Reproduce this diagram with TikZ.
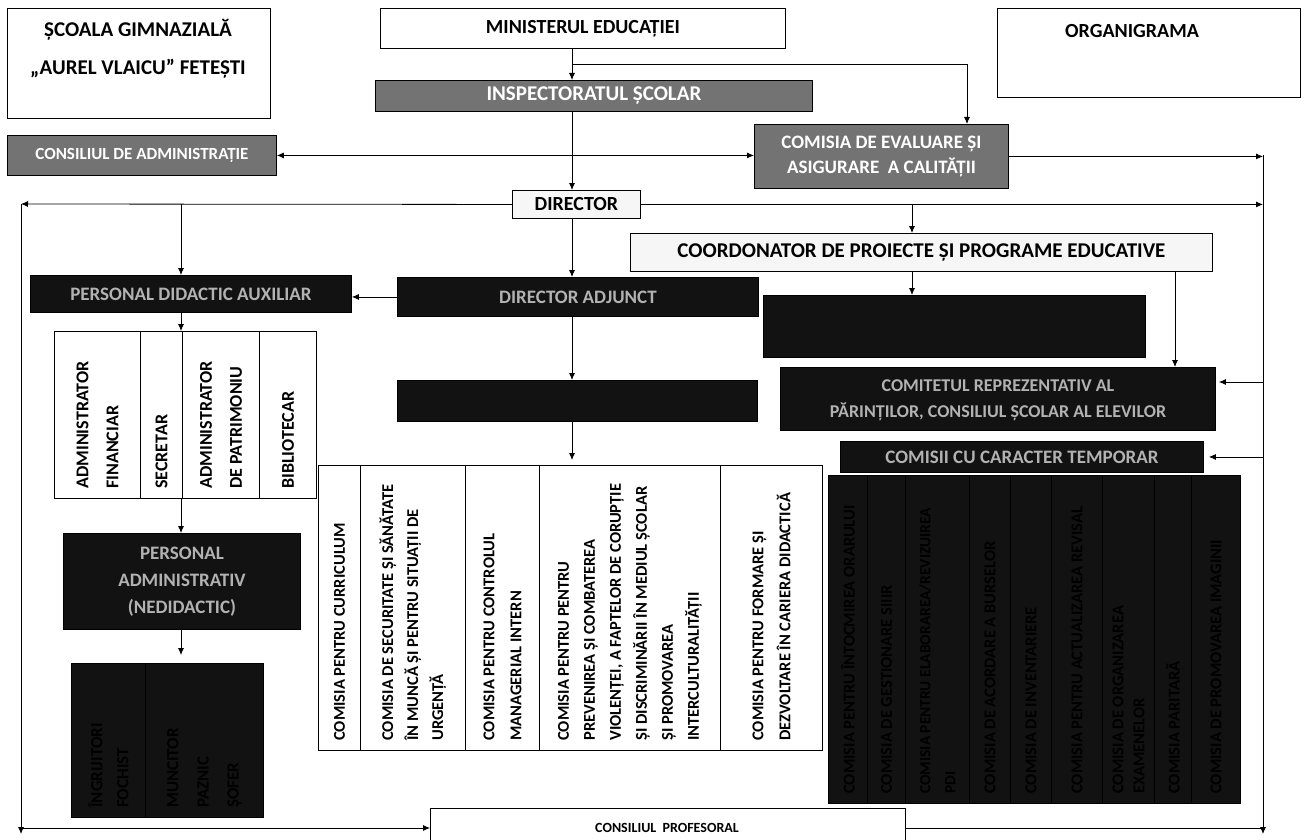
\documentclass[tikz,border=0pt]{standalone}
\usepackage{fontspec}
\setmainfont{Carlito}
\usetikzlibrary{arrows.meta}
\tikzset{
  every node/.style={font=\bfseries, inner sep=0pt},
  wbox/.style={draw, line width=0.9pt, fill=white},
  lbox/.style={draw, line width=0.9pt, fill=gray!7},
  gbox/.style={draw, line width=0.9pt, fill=black!55, text=white},
  dbox/.style={draw=black, line width=0.9pt, fill=black!93, text=gray!60},
  conn/.style={line width=0.8pt},
  arr/.style={conn, -{Latex[length=7pt,width=6pt]}},
}
\newcommand\bx[7]{\node[#1, anchor=north west, minimum width={#5-#3}, minimum height={#6-#4}] (#2) at (#3,#4) {#7};}
% column with rotated text (starting 10pt above the bottom): style, name, x1,y1,x2,y2, font, text
\newcommand\vcol[8]{%
  \node[#1, anchor=north west, minimum width={#5-#3}, minimum height={#6-#4}] (#2) at (#3,#4) {};
  \node[rotate=90, anchor=west, align=left, font=#7] at ([yshift=10pt]#2.south) {#8};}
\begin{document}
\begin{tikzpicture}[x=1pt,y=-1pt]
\useasboundingbox (0,0) rectangle (1306,840);
\clip (0,0) rectangle (1306,840);
% rails / named coordinates
\coordinate (trunk) at (572,0);
\coordinate (ceacx) at (967,0);
\coordinate (rr) at (1263,0);
\coordinate (lr) at (21,0);
\coordinate (pdax) at (181,0);
\coordinate (coordx) at (912,0);
\coordinate (comx) at (1175,0);
\coordinate (j1) at (572,64);
\coordinate (lrtop) at (21,204);
\coordinate (lrbot) at (21,834);
\coordinate (rrtop) at (1263,155);
\coordinate (rrbot) at (1263,834);
\coordinate (cpy) at (0,828);
\coordinate (comy) at (0,382);

% top boxes
\bx{wbox}{title}{7}{8}{270}{118}{}
\node[font=\bfseries\fontsize{21}{38}\selectfont, align=center] at (138,49) {ȘCOALA GIMNAZIALĂ\\„AUREL VLAICU” FETEȘTI};
\bx{wbox}{min}{380}{8}{785}{48}{\fontsize{20}{22}\selectfont MINISTERUL EDUCAȚIEI}
\bx{wbox}{org}{997}{8}{1300}{97}{}
\node[font=\bfseries\fontsize{20}{22}\selectfont] at (1132,31) {ORGANIGRAMA};
\bx{gbox}{insp}{375}{80}{812}{111}{\fontsize{21}{23}\selectfont INSPECTORATUL ȘCOLAR}
\bx{gbox}{ca}{7}{135}{276}{175}{\fontsize{17}{20}\selectfont CONSILIUL DE ADMINISTRAȚIE}
\bx{gbox}{ceac}{754}{124}{1008}{188}{\fontsize{19}{25}\selectfont\begin{tabular}{@{}c@{}}COMISIA DE EVALUARE ȘI\\ASIGURARE \ A CALITĂȚII\end{tabular}}
\bx{lbox}{dir}{512}{190}{640}{218}{\fontsize{20}{22}\selectfont DIRECTOR}
\bx{lbox}{coord}{630}{233}{1212}{271}{\fontsize{21}{23}\selectfont COORDONATOR DE PROIECTE ȘI PROGRAME EDUCATIVE}
\bx{dbox}{pda}{30}{275}{351}{312}{\fontsize{19}{21}\selectfont PERSONAL DIDACTIC AUXILIAR}
\bx{dbox}{da}{397}{277}{758}{316}{\fontsize{19}{21}\selectfont DIRECTOR ADJUNCT}
\bx{dbox}{big}{763}{295}{1145}{357}{}
\bx{dbox}{comit}{780}{367}{1215}{430}{\fontsize{18}{26}\selectfont\begin{tabular}{@{}c@{}}COMITETUL REPREZENTATIV AL\\PĂRINȚILOR, CONSILIUL ȘCOLAR AL ELEVILOR\end{tabular}}
\bx{dbox}{blank}{397}{380}{757}{421}{}
\bx{dbox}{ctt}{840}{441}{1203}{472}{\fontsize{19}{21}\selectfont COMISII CU CARACTER TEMPORAR}

% administrative columns
\vcol{wbox}{ad1}{54}{331}{140}{498}{\bfseries\fontsize{18}{30}\selectfont}{ADMINISTRATOR\\FINANCIAR}
\vcol{wbox}{ad2}{140}{331}{182}{498}{\bfseries\fontsize{18}{30}\selectfont}{SECRETAR}
\vcol{wbox}{ad3}{182}{331}{259}{498}{\bfseries\fontsize{18}{30}\selectfont}{ADMINISTRATOR\\DE PATRIMONIU}
\vcol{wbox}{ad4}{259}{331}{316}{498}{\bfseries\fontsize{18}{30}\selectfont}{BIBLIOTECAR}

\bx{dbox}{pa}{63}{533}{300}{629}{\fontsize{19}{27}\selectfont\begin{tabular}{@{}c@{}}PERSONAL\\ADMINISTRATIV\\(NEDIDACTIC)\end{tabular}}
\vcol{dbox}{ing1}{71}{663}{145}{817}{\bfseries\fontsize{17}{26}\selectfont}{ÎNGRIJITORI\\FOCHIST}
\vcol{dbox}{ing2}{145}{663}{263}{817}{\bfseries\fontsize{17}{30}\selectfont}{MUNCITOR\\PAZNIC\\ȘOFER}

% middle committee block
\vcol{wbox}{m1}{318}{465}{360}{750}{\bfseries\fontsize{16.5}{25}\selectfont}{COMISIA PENTRU CURRICULUM}
\vcol{wbox}{m2}{360}{465}{465}{750}{\bfseries\fontsize{16.5}{25}\selectfont}{COMISIA DE SECURITATE ȘI SĂNĂTATE\\ÎN MUNCĂ ȘI PENTRU SITUAȚII DE\\URGENȚĂ}
\vcol{wbox}{m3}{465}{465}{539}{750}{\bfseries\fontsize{16.5}{27}\selectfont}{COMISIA PENTRU CONTROLUL\\MANAGERIAL INTERN}
\vcol{wbox}{m4}{539}{465}{720}{750}{\bfseries\fontsize{16.5}{26}\selectfont}{COMISIA PENTRU PENTRU\\PREVENIREA ȘI COMBATEREA\\VIOLENȚEI, A FAPTELOR DE CORUPȚIE\\ȘI DISCRIMINĂRII ÎN MEDIUL ȘCOLAR\\ȘI PROMOVAREA\\INTERCULTURALITĂȚII}
\vcol{wbox}{m5}{720}{465}{822}{750}{\bfseries\fontsize{16.5}{27}\selectfont}{COMISIA PENTRU FORMARE ȘI\\DEZVOLTARE ÎN CARIERA DIDACTICĂ}

% right committee block
\vcol{dbox}{r1}{828}{475}{867}{803}{\bfseries\fontsize{16.5}{20}\selectfont}{COMISIA PENTRU ÎNTOCMIREA ORARULUI}
\vcol{dbox}{r2}{867}{475}{905}{803}{\bfseries\fontsize{16.5}{20}\selectfont}{COMISIA DE GESTIONARE SIIIR}
\vcol{dbox}{r3}{905}{475}{969}{803}{\bfseries\fontsize{15.5}{25}\selectfont}{COMISIA PENTRU ELABORAREA/REVIZUIREA\\PDI}
\vcol{dbox}{r4}{969}{475}{1010}{803}{\bfseries\fontsize{16.5}{20}\selectfont}{COMISIA DE ACORDARE A BURSELOR}
\vcol{dbox}{r5}{1010}{475}{1051}{803}{\bfseries\fontsize{16.5}{20}\selectfont}{COMISIA DE INVENTARIERE}
\vcol{dbox}{r6}{1051}{475}{1102}{803}{\bfseries\fontsize{16.5}{20}\selectfont}{COMISIA PENTRU ACTUALIZAREA REVISAL}
\vcol{dbox}{r7}{1102}{475}{1154}{803}{\bfseries\fontsize{16.5}{21}\selectfont}{COMISIA DE ORGANIZAREA\\EXAMENELOR}
\vcol{dbox}{r8}{1154}{475}{1191}{803}{\bfseries\fontsize{16.5}{20}\selectfont}{COMISIA PARITARĂ}
\vcol{dbox}{r9}{1191}{475}{1240}{803}{\bfseries\fontsize{16.5}{20}\selectfont}{COMISIA DE PROMOVAREA IMAGINII}

\bx{wbox}{cp}{430}{808}{905}{850}{}
\node[font=\bfseries\fontsize{14}{16}\selectfont] (cpt) at (667,828) {CONSILIUL \ PROFESORAL};

% connectors
\draw[arr] (min.south -| trunk) -- (insp.north -| trunk);
\draw[arr] (j1) -| (ceac.north -| ceacx);
\draw[arr] (insp.south -| trunk) -- (dir.north -| trunk);
\draw[arr] (ca.east -| trunk) -- (ca.east);
\draw[arr] (ca.east -| trunk) -- (ceac.west |- ca.east);
\draw[arr] (ceac.east) -- (ceac.east -| rr);
\draw[arr] (dir.west) -- (lrtop);
\draw[arr] (dir.east) -- (dir.east -| rr);
\draw[arr] (lrtop) -- (lrbot);
\draw[arr] (rrtop) -- (rrbot);
\draw[arr] (cpy -| lr) -- (cpy -| cp.west);
\draw[conn] (cpy -| cp.east) -- (cpy -| rr);
\draw[arr] (dir.west -| pdax) -- (pda.north -| pdax);
\draw[arr] (dir.east -| coordx) -- (coord.north -| coordx);
\draw[arr] (dir.south -| trunk) -- (da.north -| trunk);
\draw[arr] (da.west) -- (pda.east |- da.west);
\draw[arr] (da.south -| trunk) -- (blank.north -| trunk);
\draw[arr, shorten >=5pt] (blank.south -| trunk) -- (m1.north -| trunk);
\draw[arr] (coord.south -| coordx) -- (big.north -| coordx);
\draw[arr] (coord.south -| comx) -- (comit.north -| comx);
\draw[arr, shorten >=3pt] (comy -| rr) -- (comy -| comit.east);
\draw[arr, shorten >=5pt] (ctt.east -| rr) -- (ctt.east);
\draw[arr] (pda.south -| pdax) -- (ad1.north -| pdax);
\draw[arr] (ad1.south -| pdax) -- (pa.north -| pdax);
\draw[arr, shorten >=8pt] (pa.south -| pdax) -- (ing1.north -| pdax);
\end{tikzpicture}
\end{document}
